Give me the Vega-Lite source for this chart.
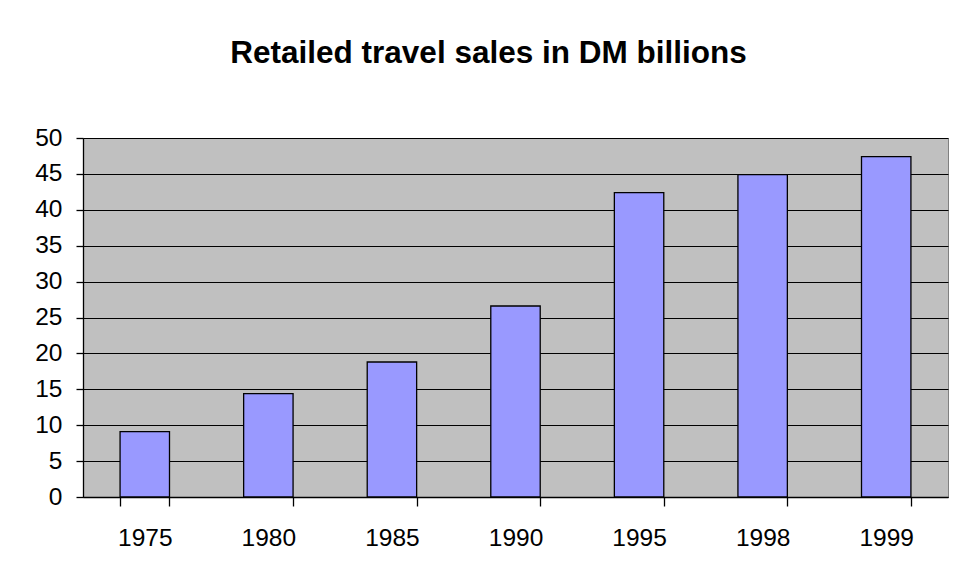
{
  "$schema": "https://vega.github.io/schema/vega-lite/v6.json",
  "width": 865,
  "height": 359,
  "autosize": {"type": "none"},
  "padding": {"left": 83, "top": 138, "right": 9, "bottom": 75},
  "background": "white",
  "title": {
    "text": "Retailed travel sales in DM billions",
    "font": "Liberation Sans",
    "fontSize": 31.5,
    "fontWeight": "bold",
    "color": "black",
    "anchor": "middle",
    "dx": -27,
    "offset": 56
  },
  "data": {
    "values": [
      {"year": "1975", "sales": 9.1},
      {"year": "1980", "sales": 14.4},
      {"year": "1985", "sales": 18.8},
      {"year": "1990", "sales": 26.6},
      {"year": "1995", "sales": 42.4},
      {"year": "1998", "sales": 44.9},
      {"year": "1999", "sales": 47.4}
    ]
  },
  "mark": {"type": "bar", "fill": "#9999FF", "stroke": "black", "strokeWidth": 1.3},
  "encoding": {
    "x": {
      "field": "year",
      "type": "nominal",
      "sort": null,
      "scale": {"paddingInner": 0.6, "paddingOuter": 0.3},
      "axis": {
        "title": null,
        "labelAngle": 0,
        "tickBand": "extent",
        "tickSize": 9,
        "tickColor": "black",
        "tickWidth": 1.3,
        "domainColor": "black",
        "domainWidth": 1.3,
        "labelFont": "Liberation Sans",
        "labelFontSize": 24.5,
        "labelColor": "black",
        "labelPadding": 20,
        "grid": false
      }
    },
    "y": {
      "field": "sales",
      "type": "quantitative",
      "scale": {"domain": [0, 50], "nice": false},
      "axis": {
        "title": null,
        "values": [0, 5, 10, 15, 20, 25, 30, 35, 40, 45, 50],
        "tickSize": 7,
        "tickColor": "black",
        "tickWidth": 1.3,
        "domainColor": "black",
        "domainWidth": 1.3,
        "gridColor": "black",
        "gridWidth": 1.2,
        "gridOpacity": 1,
        "labelFont": "Liberation Sans",
        "labelFontSize": 24.5,
        "labelColor": "black",
        "labelPadding": 14
      }
    }
  },
  "config": {
    "view": {"fill": "#C0C0C0", "stroke": "#808080", "strokeWidth": 1}
  }
}
